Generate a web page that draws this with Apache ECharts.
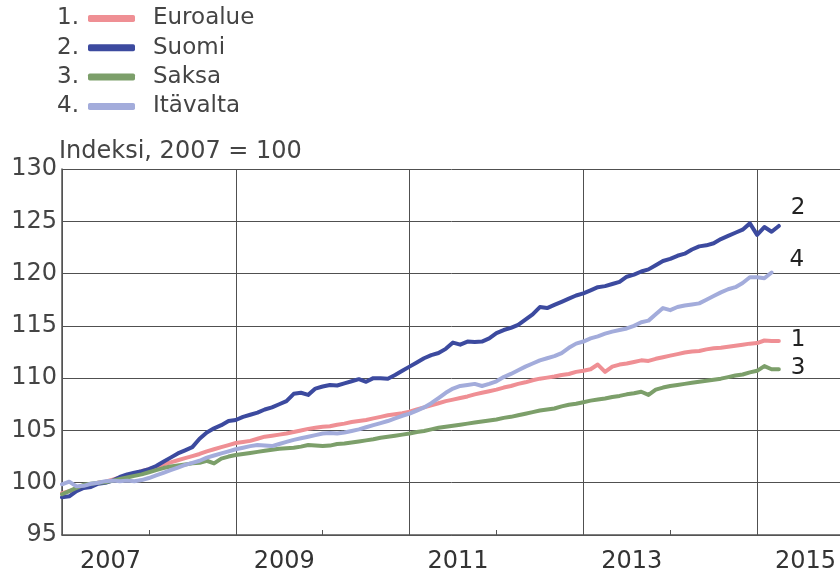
<!DOCTYPE html>
<html>
<head>
<meta charset="utf-8">
<script src="https://cdn.jsdelivr.net/npm/echarts@6/dist/echarts.min.js"></script>
<style>
html,body{margin:0;padding:0;background:#fff;}
#chart{width:840px;height:576px;}
</style>
</head>
<body>
<div id="chart"></div>
<script>
// Monthly index values, Jan 2007 onwards (2007 = 100)
const startYear = 2007;
const seriesNames = ['Euroalue', 'Suomi', 'Saksa', 'Itävalta'];
const seriesNumbers = ['1.', '2.', '3.', '4.'];
const endNumbers = ['1', '2', '3', '4'];
const yTicks = [95, 100, 105, 110, 115, 120, 125, 130];
const yearLabels = [2007, 2009, 2011, 2013, 2015];
const titleText = 'Indeksi, 2007 = 100';

const euroalue = [
  99.0, 99.2, 99.4, 99.6, 99.8, 100.0, 100.1, 100.3, 100.5, 100.7, 100.9, 101.1,
  101.3, 101.5, 101.75, 101.95, 102.15, 102.35, 102.55, 102.75, 103.0, 103.2, 103.4, 103.6,
  103.8, 103.9, 104.0, 104.2, 104.4, 104.5, 104.6, 104.7, 104.85, 105.0, 105.15, 105.25,
  105.35, 105.4, 105.55, 105.65, 105.8, 105.9, 106.0, 106.15, 106.3, 106.45, 106.55, 106.65,
  106.8, 107.0, 107.2, 107.4, 107.6, 107.8, 107.95, 108.1, 108.25, 108.45, 108.6, 108.75,
  108.9, 109.1, 109.25, 109.45, 109.6, 109.8, 109.95, 110.05, 110.15, 110.3, 110.4, 110.6,
  110.7, 110.85, 111.3, 110.6, 111.1, 111.3, 111.4, 111.55, 111.7, 111.65, 111.85, 112.0,
  112.15, 112.3, 112.45, 112.55, 112.6, 112.75, 112.85, 112.9, 113.0, 113.1, 113.2, 113.3,
  113.35, 113.6, 113.55, 113.55
];
const suomi = [
  98.6, 98.7, 99.2, 99.5, 99.6, 99.9, 100.0, 100.2, 100.55, 100.8, 100.95, 101.1,
  101.3, 101.6, 102.0, 102.4, 102.8, 103.1, 103.4, 104.2, 104.8, 105.2, 105.5, 105.9,
  106.0, 106.3, 106.5, 106.7, 107.0, 107.2, 107.5, 107.8, 108.5, 108.6, 108.4, 109.0,
  109.2, 109.35, 109.3, 109.5, 109.7, 109.9, 109.65, 110.0, 110.0, 109.95, 110.3, 110.7,
  111.1, 111.5, 111.9, 112.2, 112.4, 112.8, 113.4, 113.2, 113.5, 113.45, 113.5, 113.8,
  114.3, 114.6, 114.8, 115.1, 115.6, 116.1, 116.8, 116.7, 117.0, 117.3, 117.6, 117.9,
  118.1, 118.4, 118.7, 118.8, 119.0, 119.2, 119.7, 119.9, 120.2, 120.4, 120.8, 121.2,
  121.4, 121.7, 121.9, 122.3, 122.6, 122.7, 122.9, 123.3, 123.6, 123.9, 124.2, 124.8,
  123.7, 124.45, 124.0, 124.55
];
const saksa = [
  98.9, 99.2, 99.5, 99.8, 99.9, 100.0, 100.05, 100.2, 100.35, 100.5, 100.65, 100.8,
  101.0, 101.2, 101.4, 101.55, 101.65, 101.75, 101.85, 101.9, 102.1, 101.85, 102.3, 102.5,
  102.65, 102.75, 102.85, 102.95, 103.05, 103.15, 103.25, 103.3, 103.35, 103.45, 103.6, 103.55,
  103.5, 103.55, 103.7, 103.75, 103.85, 103.95, 104.05, 104.15, 104.3, 104.4, 104.5, 104.6,
  104.7, 104.85, 104.95, 105.1, 105.25, 105.35, 105.45, 105.55, 105.65, 105.75, 105.85, 105.95,
  106.05, 106.2, 106.3, 106.45, 106.6, 106.75, 106.9, 107.0, 107.1, 107.3, 107.45, 107.55,
  107.7, 107.85, 107.95, 108.05, 108.2, 108.3, 108.45, 108.55, 108.7, 108.4, 108.9, 109.1,
  109.25, 109.35, 109.45, 109.55, 109.65, 109.75, 109.85, 109.95, 110.1, 110.25, 110.35, 110.55,
  110.7, 111.15, 110.85, 110.85
];
const itavalta = [
  99.85, 100.1, 99.65, 99.7, 99.9, 100.0, 100.15, 100.2, 100.15, 100.2, 100.15, 100.25,
  100.45, 100.7, 100.95, 101.2, 101.45, 101.7, 101.9, 102.1, 102.4, 102.6, 102.8, 103.0,
  103.2, 103.35, 103.5, 103.6, 103.55, 103.5, 103.7, 103.9, 104.1, 104.25, 104.4, 104.55,
  104.7, 104.75, 104.7, 104.8, 104.95, 105.1, 105.3, 105.5, 105.7, 105.9, 106.15, 106.4,
  106.6, 106.9, 107.2, 107.6, 108.1, 108.6, 109.0, 109.25, 109.35, 109.45, 109.25, 109.45,
  109.7, 110.1, 110.4, 110.75, 111.1, 111.4, 111.7, 111.9, 112.1, 112.4, 112.9, 113.3,
  113.5, 113.8, 114.0, 114.25, 114.45, 114.6, 114.75, 115.0, 115.35, 115.5, 116.1, 116.7,
  116.5, 116.8, 116.95, 117.05, 117.15, 117.5, 117.85, 118.2, 118.5, 118.7, 119.1, 119.65,
  119.65, 119.55, 120.1
];

const seriesValues = [euroalue, suomi, saksa, itavalta];
const colors = ['#ef8f94', '#3c4a9f', '#7c9f6a', '#a3acdb'];
const endOffsets = [[0, -1], [0, -18], [0, -1], [6, -12]];

const toPairs = arr => arr.map((v, i) => [startYear + i / 12, v]);

const chart = echarts.init(document.getElementById('chart'), null, {renderer: 'canvas'});
const font = 'DejaVu Sans';
const gridColor = '#505050';
const rowCenters = [18.5, 47.8, 77.1, 106.4];

const option = {
  animation: false,
  backgroundColor: '#ffffff',
  color: colors,
  textStyle: {fontFamily: font},
  title: {
    text: titleText,
    left: 59,
    top: 140,
    padding: 0,
    textStyle: {fontFamily: font, fontSize: 24, lineHeight: 24, fontWeight: 'normal', color: '#444'}
  },
  legend: {
    orient: 'vertical',
    left: 83,
    top: 2,
    itemWidth: 47,
    itemHeight: 7,
    itemGap: 6.3,
    icon: 'roundRect',
    data: seriesNames,
    selectedMode: false,
    textStyle: {fontFamily: font, fontSize: 23, lineHeight: 23, color: '#444', padding: [0, 0, 0, 13]}
  },
  graphic: seriesNumbers.map((t, i) => ({
    type: 'text',
    x: 57,
    y: rowCenters[i],
    style: {text: t, font: '23px "DejaVu Sans"', fill: '#444', verticalAlign: 'middle', align: 'left'}
  })),
  grid: {left: 62, top: 169, width: 782, height: 366, containLabel: false, outerBoundsMode: 'none'},
  xAxis: [
    {
      type: 'value',
      min: startYear,
      max: 2016,
      interval: 2,
      position: 'bottom',
      axisLine: {show: true, lineStyle: {color: '#555', width: 1.5}},
      axisTick: {show: true, inside: true, length: 5, lineStyle: {color: '#555'}},
      minorTick: {show: true, splitNumber: 2, length: 5, lineStyle: {color: '#555', width: 1}},
      axisLabel: {show: false},
      splitLine: {show: true, showMaxLine: false, lineStyle: {color: gridColor, width: 1}}
    },
    {
      type: 'value',
      min: startYear,
      max: 2016,
      interval: 0.5,
      position: 'bottom',
      axisLine: {show: false},
      axisTick: {show: false},
      splitLine: {show: false},
      axisLabel: {
        show: true,
        margin: 15,
        fontFamily: font,
        fontSize: 24,
        color: '#333',
        padding: [0, 0, 0, 10],
        formatter: v => {
          const y = yearLabels.find(yy => Math.abs(v - (yy + 0.5)) < 1e-6);
          return y !== undefined ? String(y) : '';
        }
      }
    }
  ],
  yAxis: {
    type: 'value',
    min: yTicks[0],
    max: yTicks[yTicks.length - 1],
    interval: 5,
    axisLine: {show: true, lineStyle: {color: '#555', width: 1.5}},
    axisTick: {show: false},
    axisLabel: {margin: 5, fontFamily: font, fontSize: 24, color: '#444'},
    splitLine: {show: true, lineStyle: {color: gridColor, width: 1}}
  },
  series: seriesNames.map((name, i) => ({
    name: name,
    type: 'line',
    xAxisIndex: 0,
    data: toPairs(seriesValues[i]),
    showSymbol: false,
    symbol: 'none',
    lineStyle: {width: 4, color: colors[i], cap: 'round', join: 'round'},
    itemStyle: {color: colors[i]},
    endLabel: {
      show: true,
      formatter: endNumbers[i],
      distance: 12,
      offset: endOffsets[i],
      fontFamily: font,
      fontSize: 23,
      color: '#222'
    },
    z: 2 + i
  }))
};
chart.setOption(option);
</script>
</body>
</html>
